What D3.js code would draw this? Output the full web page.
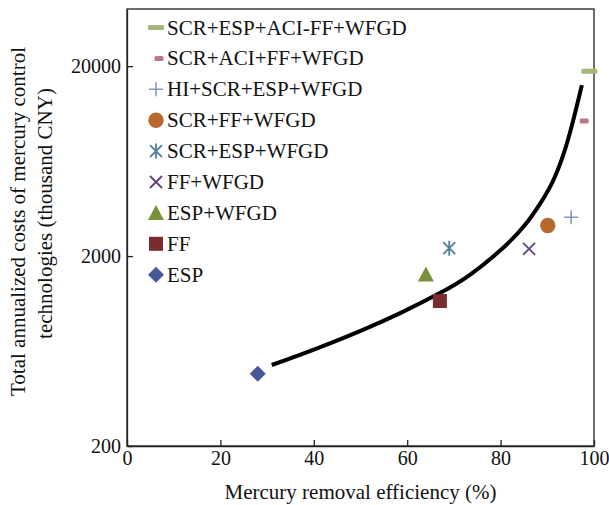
<!DOCTYPE html>
<html>
<head>
<meta charset="utf-8">
<script src="https://cdn.jsdelivr.net/npm/d3@7"></script>
<style>
  body { margin: 0; background: #fff; }
  text { font-family: "Liberation Serif", "Times New Roman", serif; fill: #111; }
</style>
</head>
<body>
<script>
// technologies, in legend order
var techNames = ['SCR+ESP+ACI-FF+WFGD', 'SCR+ACI+FF+WFGD', 'HI+SCR+ESP+WFGD', 'SCR+FF+WFGD',
  'SCR+ESP+WFGD', 'FF+WFGD', 'ESP+WFGD', 'FF', 'ESP'];
var techEff = [99, 97.9, 95.1, 90.1, 69, 86.1, 64, 67, 28];
var techCost = [18800, 10300, 3200, 2900, 2200, 2180, 1600, 1160, 480];
var techShape = ['bar', 'smallbar', 'plus', 'circle', 'asterisk', 'cross', 'triangle', 'square', 'diamond'];
var techColor = ['#a3b87a', '#b97984', '#8795c5', '#b8672f', '#4f7fa0', '#604282', '#78913a', '#7b2c2f', '#475897'];

// fitted curve
var curveEff = [31, 40.3, 49.9, 58.5, 67, 73.5, 80.5, 85.2, 88.4, 91, 93.4, 95.5, 97.4];
var curveCost = [534, 648, 806, 1002, 1277, 1598, 2204, 2912, 3757, 4845, 6800, 10270, 15890];

var xTicks = [0, 20, 40, 60, 80, 100];
var yTicks = [200, 2000, 20000];

var width = 609, height = 505;
var margin = {top: 9, right: 15, bottom: 59, left: 127};

var svg = d3.select('body').append('svg')
  .attr('width', width)
  .attr('height', height);

var x = d3.scaleLinear().domain([0, 100]).range([margin.left, width - margin.right]);
var y = d3.scaleLog().domain([200, 40000]).range([height - margin.bottom, margin.top]);

// frame
svg.append('rect')
  .attr('x', margin.left).attr('y', margin.top)
  .attr('width', width - margin.left - margin.right)
  .attr('height', height - margin.top - margin.bottom)
  .attr('fill', 'none').attr('stroke', '#222').attr('stroke-width', 1.3);

var xAxis = svg.append('g')
  .attr('transform', 'translate(0,' + (height - margin.bottom) + ')')
  .call(d3.axisBottom(x).tickValues(xTicks).tickSizeInner(-6).tickSizeOuter(0).tickPadding(5));
xAxis.select('.domain').attr('stroke', '#222').attr('stroke-width', 1.3);
xAxis.selectAll('text').style('font-size', '20px').style('font-family', '"Liberation Serif", serif').attr('fill', '#111');

var yAxis = svg.append('g')
  .attr('transform', 'translate(' + margin.left + ',0)')
  .call(d3.axisLeft(y).tickValues(yTicks).tickFormat(d3.format('d')).tickSizeInner(-6).tickSizeOuter(0).tickPadding(6));
yAxis.select('.domain').attr('stroke', '#222').attr('stroke-width', 1.3);
yAxis.selectAll('text').style('font-size', '20px').style('font-family', '"Liberation Serif", serif').attr('fill', '#111');
svg.selectAll('.tick line').attr('stroke', '#222').attr('stroke-width', 1.3);

// axis titles
svg.append('text')
  .attr('x', (margin.left + width - margin.right) / 2)
  .attr('y', 499)
  .attr('text-anchor', 'middle')
  .style('font-size', '21px')
  .text('Mercury removal efficiency (%)');

var yTitle = svg.append('text')
  .attr('transform', 'translate(0,' + ((margin.top + height - margin.bottom) / 2) + ') rotate(-90)')
  .attr('text-anchor', 'middle')
  .style('font-size', '21px');
yTitle.append('tspan').attr('x', 6).attr('y', 25).text('Total annualized costs of mercury control');
yTitle.append('tspan').attr('x', 14).attr('y', 52).text('technologies (thousand CNY)');

// curve
var curveData = curveEff.map(function(d, i) { return {e: d, c: curveCost[i]}; });
svg.append('path')
  .datum(curveData)
  .attr('fill', 'none')
  .attr('stroke', '#000')
  .attr('stroke-width', 4)
  .attr('d', d3.line()
    .x(function(d) { return x(d.e); })
    .y(function(d) { return y(d.c); })
    .curve(d3.curveNatural));

function drawMarker(g, shape, color) {
  if (shape === 'bar') {
    g.append('rect').attr('x', -8).attr('y', -2.5).attr('width', 16).attr('height', 5).attr('rx', 1.5).attr('fill', color);
  } else if (shape === 'smallbar') {
    g.append('rect').attr('x', -4.5).attr('y', -2.5).attr('width', 9).attr('height', 5).attr('rx', 1.5).attr('fill', color);
  } else if (shape === 'plus') {
    g.append('path').attr('d', 'M-7,0H7M0,-7V7').attr('stroke', color).attr('stroke-width', 1.6).attr('fill', 'none');
  } else if (shape === 'circle') {
    g.append('circle').attr('r', 7.7).attr('fill', color);
  } else if (shape === 'asterisk') {
    g.append('path').attr('d', 'M-6,-6L6,6M-6,6L6,-6M0,-7.5V7.5').attr('stroke', color).attr('stroke-width', 1.8).attr('fill', 'none');
  } else if (shape === 'cross') {
    g.append('path').attr('d', 'M-6,-6L6,6M-6,6L6,-6').attr('stroke', color).attr('stroke-width', 1.8).attr('fill', 'none');
  } else if (shape === 'triangle') {
    g.append('path').attr('d', 'M0,-8L8,7H-8Z').attr('fill', color);
  } else if (shape === 'square') {
    g.append('rect').attr('x', -7).attr('y', -7).attr('width', 14).attr('height', 14).attr('fill', color);
  } else if (shape === 'diamond') {
    g.append('path').attr('d', 'M0,-8L8,0L0,8L-8,0Z').attr('fill', color);
  }
}

// points
svg.selectAll('.pt').data(techNames)
  .enter()
  .append('g')
  .attr('class', 'pt')
  .attr('transform', function(d, i) { return 'translate(' + x(techEff[i]) + ',' + y(techCost[i]) + ')'; })
  .each(function(d, i) { drawMarker(d3.select(this), techShape[i], techColor[i]); });

// legend
var legend = svg.selectAll('.leg').data(techNames)
  .enter()
  .append('g')
  .attr('class', 'leg')
  .attr('transform', function(d, i) { return 'translate(156,' + (27.5 + i * 30.9) + ')'; });
legend.each(function(d, i) {
  var g = d3.select(this);
  var shape = techShape[i];
  var gm = g.append('g');
  if (shape === 'smallbar') gm.attr('transform', 'translate(3,0)');
  drawMarker(gm, shape, techColor[i]);
});
legend.append('text')
  .attr('x', 11)
  .attr('y', 7)
  .style('font-size', '21px')
  .text(function(d) { return d; });
</script>
</body>
</html>
